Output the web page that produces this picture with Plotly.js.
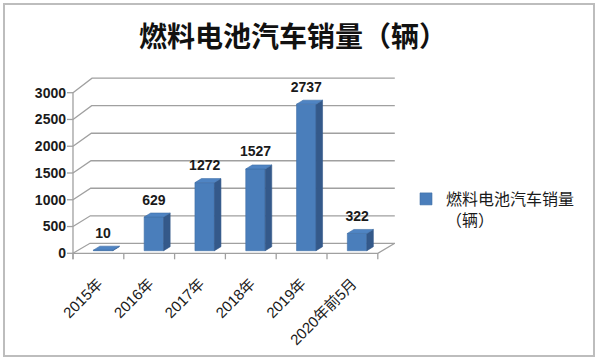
<!DOCTYPE html>
<html>
<head>
<meta charset="utf-8">
<script src="https://cdn.plot.ly/plotly-3.0.1.min.js"></script>
<style>html,body{margin:0;padding:0;background:#fff;}#chart{width:600px;height:364px;}</style>
</head>
<body>
<div id="chart"></div>
<script>
// ---- data ----
const categories = ['2015年', '2016年', '2017年', '2018年', '2019年', '2020年前5月'];
const sales = [10, 629, 1272, 1527, 2737, 322];
const yTicks = [0, 500, 1000, 1500, 2000, 2500, 3000];
const seriesName = '燃料电池汽车销量<br>（辆）';
const chartTitle = '燃料电池汽车销量（辆）';

// ---- layout geometry ----
const W = 600, H = 364;
const M = {l: 67, r: 200, t: 60, b: 102};
const plotW = W - M.l - M.r, plotH = H - M.t - M.b;
const xRange = [-0.618, 5.937];
const yRange = [-162.5, 3611];
const ux = (xRange[1] - xRange[0]) / plotW;   // data units per px
const uy = (yRange[1] - yRange[0]) / plotH;
const yMax = yTicks[yTicks.length - 1];
function depth(v) { return {dx: (17 + 2 * v / yMax) * ux, dy: (10 + 4.5 * v / yMax) * uy}; }
const left = -0.5, right = categories.length - 0.5;
const backRight = right + depth(0).dx;

const gridColor = '#a0a0a0';
const shapes = [];
// gridlines (front diagonal + back wall)
yTicks.forEach(t => {
  const d = depth(t);
  shapes.push({type: 'path', xref: 'x', yref: 'y', layer: 'below',
    path: `M ${left},${t} L ${left + d.dx},${t + d.dy} L ${backRight},${t + d.dy}`,
    line: {color: gridColor, width: 1.3}});
  shapes.push({type: 'line', xref: 'x', yref: 'y', layer: 'below',
    x0: left - 6 * ux, x1: left, y0: t, y1: t, line: {color: gridColor, width: 1.3}});
});
// floor front edge and right edge
const d0 = depth(0);
shapes.push({type: 'path', xref: 'x', yref: 'y', layer: 'below',
  path: `M ${left},0 L ${right},0 L ${backRight},${d0.dy}`, line: {color: gridColor, width: 1.3}});
// y axis line
shapes.push({type: 'line', xref: 'x', yref: 'y', layer: 'below',
  x0: left, x1: left, y0: -6 * uy, y1: yMax, line: {color: gridColor, width: 1.3}});
// x boundary ticks
for (let i = 0; i <= categories.length; i++) {
  shapes.push({type: 'line', xref: 'x', yref: 'y', layer: 'below',
    x0: left + i, x1: left + i, y0: 0, y1: -6 * uy, line: {color: gridColor, width: 1.3}});
}
// outer border
shapes.push({type: 'rect', xref: 'paper', yref: 'paper',
  x0: (4 - M.l) / plotW, x1: (594 - M.l) / plotW,
  y0: (H - M.b - 356) / plotH, y1: (H - M.b - 4) / plotH,
  line: {color: '#bdbdbd', width: 2}});

// ---- bars (pseudo 3D) ----
const shiftX = 4.7 * ux, baseY = 2.6 * uy, barW = 19.5 * ux;
const bdx = 6.5 * ux, bdy = 4 * uy;
const xs = categories.map((_, i) => i + shiftX);

const sideX = [], sideY = [], topX = [], topY = [];
sales.forEach((v, i) => {
  const xl = xs[i] - barW / 2, xr = xs[i] + barW / 2;
  const yb = baseY, yt = baseY + v;
  sideX.push(xr, xr, xr + bdx, xr + bdx, xr, null);
  sideY.push(yb, yt, yt + bdy, yb + bdy, yb, null);
  topX.push(xl, xr, xr + bdx, xl + bdx, xl, null);
  topY.push(yt, yt, yt + bdy, yt + bdy, yt, null);
});

const font = 'Liberation Sans, Noto Sans CJK SC, sans-serif';
const traces = [
  {type: 'bar', x: xs, y: sales, base: baseY, width: barW, name: seriesName,
    marker: {color: '#4a7ebb', line: {color: '#3f6ea6', width: 0.6}}, hoverinfo: 'skip'},
  {type: 'scatter', mode: 'lines', x: sideX, y: sideY, fill: 'toself', fillcolor: '#34598a',
    line: {color: '#34598a', width: 0.6}, showlegend: false, hoverinfo: 'skip'},
  {type: 'scatter', mode: 'lines', x: topX, y: topY, fill: 'toself', fillcolor: '#4f84c3',
    line: {color: '#3f6ea6', width: 0.6}, showlegend: false, hoverinfo: 'skip'},
  {type: 'scatter', mode: 'text', x: xs, y: sales.map(v => baseY + v + 16 * uy),
    text: sales.map(String), textposition: 'middle center', cliponaxis: false,
    textfont: {family: font, size: 14, color: '#1a1a1a', weight: 'bold'},
    showlegend: false, hoverinfo: 'skip'}
];

const layout = {
  width: W, height: H, margin: M,
  paper_bgcolor: '#fff', plot_bgcolor: 'rgba(0,0,0,0)',
  title: {text: chartTitle, x: 293 / W, xref: 'container', xanchor: 'center',
    y: 1 - 37 / H, yref: 'container', yanchor: 'middle',
    font: {family: 'Noto Sans CJK SC, sans-serif', size: 28, color: '#111', weight: 'bold'}},
  xaxis: {range: xRange, tickvals: categories.map((_, i) => i), ticktext: categories,
    tickangle: -45, showgrid: false, zeroline: false, showline: false,
    ticks: 'outside', ticklen: 6, tickcolor: 'rgba(0,0,0,0)',
    tickfont: {family: font, size: 15, color: '#1a1a1a'}, fixedrange: true},
  yaxis: {range: yRange, tickvals: yTicks, showgrid: false, zeroline: false, showline: false,
    ticks: '', tickfont: {family: font, size: 14, color: '#1a1a1a', weight: 'bold'}, fixedrange: true},
  showlegend: true,
  legend: {x: 406 / W, xref: 'container', xanchor: 'left', y: 1 - 182 / H, yref: 'container',
    yanchor: 'top', valign: 'top', font: {family: 'Noto Sans CJK SC, sans-serif', size: 16, color: '#1a1a1a'},
    bgcolor: 'rgba(0,0,0,0)'},
  shapes: shapes
};

Plotly.newPlot('chart', traces, layout, {displayModeBar: false, staticPlot: true});
</script>
</body>
</html>
